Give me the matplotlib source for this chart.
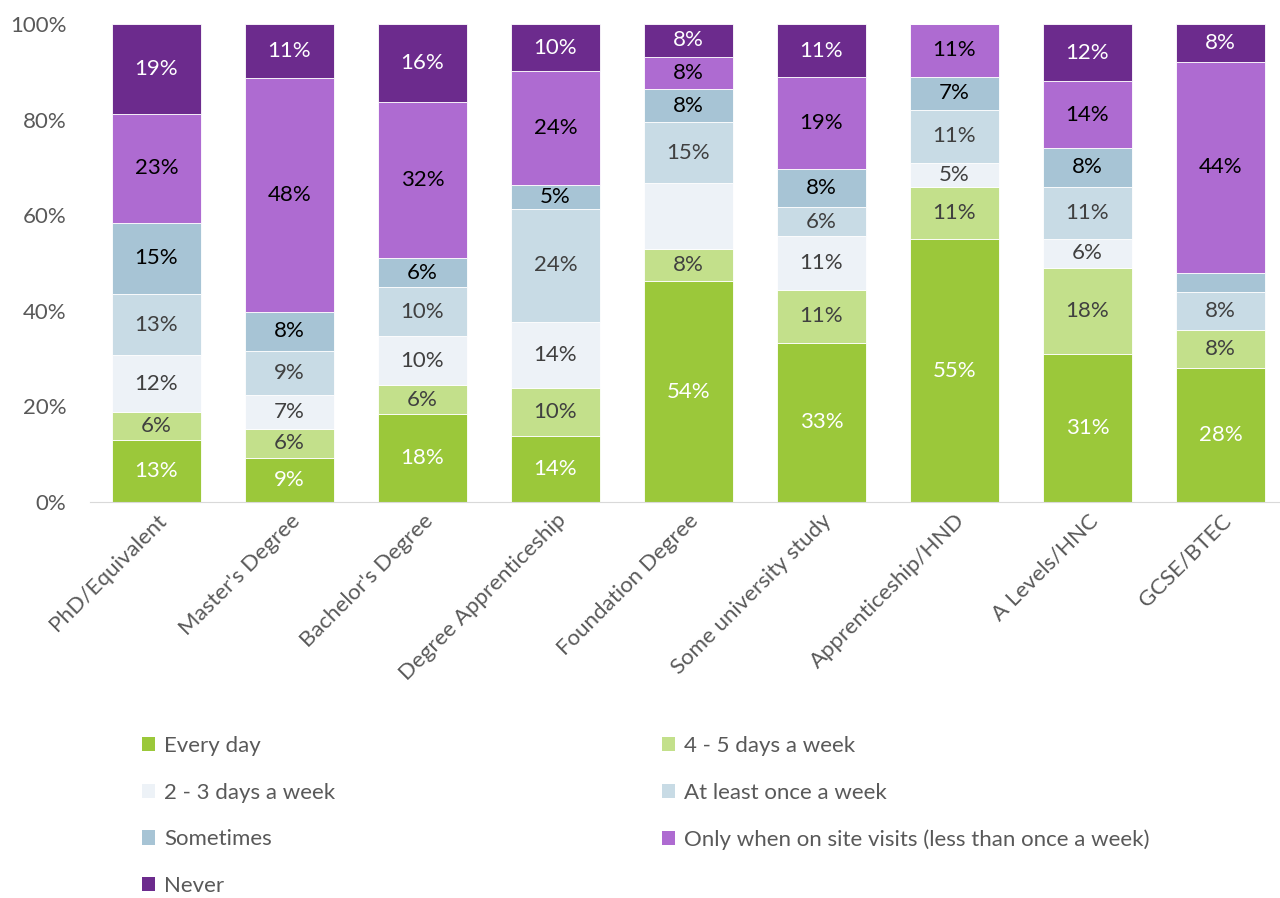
import numpy as np
import matplotlib.pyplot as plt
from matplotlib.patches import Patch

plt.rcParams['font.family'] = ['Lato', 'DejaVu Sans']

categories = ['PhD/Equivalent', "Master's Degree", "Bachelor's Degree",
              'Degree Apprenticeship', 'Foundation Degree', 'Some university study',
              'Apprenticeship/HND', 'A Levels/HNC', 'GCSE/BTEC']

series = ['Every day', '4 - 5 days a week', '2 - 3 days a week', 'At least once a week',
          'Sometimes', 'Only when on site visits (less than once a week)', 'Never']

every_day = [13, 9, 18, 14, 54, 33, 55, 31, 28]
four_five = [6, 6, 6, 10, 8, 11, 11, 18, 8]
two_three = [12, 7, 10, 14, 16, 11, 5, 6, 0]
once_week = [13, 9, 10, 24, 15, 6, 11, 11, 8]
sometimes = [15, 8, 6, 5, 8, 8, 7, 8, 4]
site_only = [23, 48, 32, 24, 8, 19, 11, 14, 44]
never = [19, 11, 16, 10, 8, 11, 0, 12, 8]

# segments without a printed value
hidden = {(2, 4), (4, 8), (2, 8)}

colors = ['#9BC83A', '#C3E08B', '#EDF2F7', '#C8DBE5', '#A7C4D5', '#AE6BD1', '#6C2B8D']
label_colors = ['white', '#404040', '#404040', '#404040', 'black', 'black', 'white']

data = np.array([every_day, four_five, two_three, once_week, sometimes, site_only, never], dtype=float)
shares = data / data.sum(axis=0) * 100  # 100% stacked

FS = 16

fig = plt.figure(figsize=(12.8, 8.98), dpi=100)
ax = fig.add_axes([90 / 1280, (898 - 502) / 898, 1190 / 1280, 478 / 898])

x = np.arange(len(categories))
bottom = np.zeros(len(categories))
for s, (name, col) in enumerate(zip(series, colors)):
    ax.bar(x, shares[s], bottom=bottom, width=0.67, color=col, edgecolor='white', linewidth=0.6)
    for i in range(len(categories)):
        if data[s, i] <= 0 or (s, i) in hidden:
            continue
        ax.text(x[i], bottom[i] + shares[s, i] / 2, f'{int(data[s, i])}%', ha='center', va='center',
                fontsize=FS, color=label_colors[s])
    bottom += shares[s]

ax.set_xlim(-0.5, -0.5 + 1190 / 133)
ax.set_ylim(0, 100)
ax.set_yticks(np.arange(0, 101, 20))
ax.set_yticklabels([f'{v}%' for v in range(0, 101, 20)], fontsize=FS, color='#595959')
ax.tick_params(axis='y', length=0, pad=17)
ax.tick_params(axis='x', length=0, pad=6)
ax.set_xticks(x)
ax.set_xticklabels(categories, rotation=45, ha='right', rotation_mode='anchor',
                   fontsize=FS, color='#595959')
for side in ['top', 'right', 'left']:
    ax.spines[side].set_visible(False)
ax.spines['bottom'].set_color('#D9D9D9')

handles = [Patch(facecolor=c, edgecolor='none') for c in colors]
order = [0, 2, 4, 6, 1, 3, 5]
fig.legend([handles[i] for i in order], [series[i] for i in order], ncol=2,
           loc='upper left', bbox_to_anchor=(122 / 1280, 1 - 716 / 898), frameon=False,
           fontsize=FS, labelcolor='#595959', handlelength=0.6, handleheight=0.6,
           handletextpad=0.4, labelspacing=1.2, columnspacing=14.7)

fig.savefig('out.png', dpi=100, facecolor='white')
